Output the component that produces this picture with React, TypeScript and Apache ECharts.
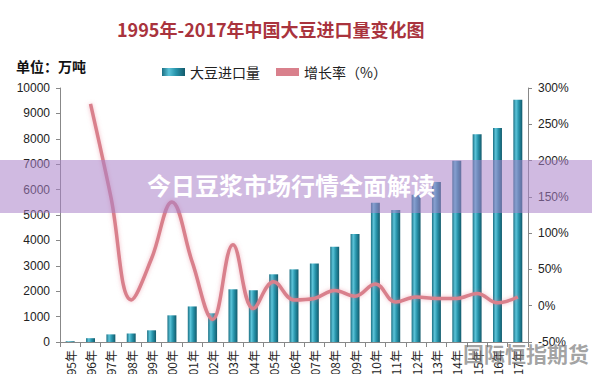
import React, { useEffect, useRef } from "react";
import * as echarts from "echarts";

const years = [
  "1995年", "1996年", "1997年", "1998年", "1999年", "2000年", "2001年", "2002年",
  "2003年", "2004年", "2005年", "2006年", "2007年", "2008年", "2009年", "2010年",
  "2011年", "2012年", "2013年", "2014年", "2015年", "2016年", "2017年",
];
const imports = [
  30, 150, 300, 330, 460, 1050, 1400, 1130, 2075, 2040, 2665, 2860, 3090, 3750,
  4250, 5480, 5200, 5800, 6300, 7140, 8180, 8430, 9540,
];
const growth = [
  null, 278, 150, 8, 65, 143, 60, -19, 84, -4, 33, 8, 10, 21, 13, 30, 5, 12, 10,
  10, 17, 4, 12,
];
const leftTicks = { min: 0, max: 10000, interval: 1000 };
const rightTicks = { min: -50, max: 300, interval: 50 };

const numFont = "'Liberation Sans', Arial, sans-serif";
const cjkFont = "'Noto Sans CJK SC', sans-serif";

export default function App() {
  const ref = useRef<HTMLDivElement>(null);
  useEffect(() => {
    if (!ref.current) return;
    const chart = echarts.init(ref.current, undefined, { renderer: "svg" });
    chart.setOption({
      animation: false,
      backgroundColor: "#ffffff",
      textStyle: { fontFamily: cjkFont },
      grid: {
        left: 60,
        right: 64,
        top: 88,
        bottom: 32,
        containLabel: false,
        outerBoundsMode: "none",
      },
      legend: {
        left: 157,
        top: 60,
        itemWidth: 23,
        itemHeight: 8,
        itemGap: 16,
        textStyle: { fontSize: 14, color: "#222", fontFamily: cjkFont },
        data: [
          { name: "大豆进口量", icon: "rect" },
          { name: "增长率（%）", icon: "rect", itemStyle: { color: "#d9808c" } },
        ],
      },
      xAxis: {
        type: "category",
        data: years,
        axisLine: { lineStyle: { color: "#888" } },
        axisTick: { show: true, interval: 0, length: 5, lineStyle: { color: "#888" } },
        axisLabel: { interval: 0, rotate: 90, fontSize: 12, color: "#222", margin: 8, fontFamily: cjkFont },
      },
      yAxis: [
        {
          type: "value",
          ...leftTicks,
          axisLine: { show: true, lineStyle: { color: "#888" } },
          axisTick: { show: true, length: 4, lineStyle: { color: "#888" } },
          splitLine: { show: false },
          axisLabel: {
            fontSize: 12,
            color: "#222",
            margin: 10,
            fontFamily: numFont,
            formatter: (v: number) => String(v),
          },
        },
        {
          type: "value",
          ...rightTicks,
          position: "right",
          axisLine: { show: true, lineStyle: { color: "#888" } },
          axisTick: { show: true, length: 4, lineStyle: { color: "#888" } },
          splitLine: { show: false },
          axisLabel: {
            fontSize: 12,
            color: "#222",
            margin: 10,
            fontFamily: numFont,
            formatter: (v: number) => v + "%",
          },
        },
      ],
      series: [
        {
          name: "大豆进口量",
          type: "bar",
          data: imports,
          barWidth: "44%",
          itemStyle: {
            color: new echarts.graphic.LinearGradient(0, 0, 1, 0, [
              { offset: 0, color: "#1b6f83" },
              { offset: 0.3, color: "#5cc4d9" },
              { offset: 0.6, color: "#2794ab" },
              { offset: 1, color: "#135a6b" },
            ]),
          },
        },
        {
          name: "增长率（%）",
          type: "line",
          yAxisIndex: 1,
          data: growth,
          smooth: 0.4,
          showSymbol: false,
          symbol: "none",
          lineStyle: {
            color: "#d9808c",
            width: 3.5,
            shadowColor: "rgba(230,120,140,0.5)",
            shadowBlur: 4,
          },
          itemStyle: { color: "#d9808c" },
        },
      ],
      graphic: [
        {
          type: "text",
          left: 117,
          top: 20,
          style: {
            text: "1995年-2017年中国大豆进口量变化图",
            fontSize: 18,
            fontWeight: "bold",
            fill: "#a9333d",
            fontFamily: cjkFont,
          },
        },
        {
          type: "text",
          left: 16,
          top: 59,
          style: {
            text: "单位：万吨",
            fontSize: 14,
            fontWeight: "bold",
            fill: "#111",
            fontFamily: cjkFont,
          },
        },
        {
          type: "rect",
          left: 0,
          top: 160,
          shape: { width: 592, height: 53 },
          style: { fill: "rgba(170,130,200,0.55)" },
          z: 100,
        },
        {
          type: "text",
          left: 147,
          top: 172,
          z: 101,
          style: {
            text: "今日豆浆市场行情全面解读",
            fontSize: 24,
            fontWeight: "bold",
            fill: "#ffffff",
            fontFamily: cjkFont,
          },
        },
        {
          type: "text",
          left: 463,
          top: 342,
          z: 101,
          style: {
            text: "国际恒指期货",
            fontSize: 21,
            fontWeight: "bold",
            fill: "rgba(110,110,110,0.65)",
            fontFamily: cjkFont,
          },
        },
      ],
    });
    return () => chart.dispose();
  }, []);
  return (
    <div
      ref={ref}
      style={{ position: "fixed", left: 0, top: 0, width: 592, height: 374 }}
    />
  );
}
